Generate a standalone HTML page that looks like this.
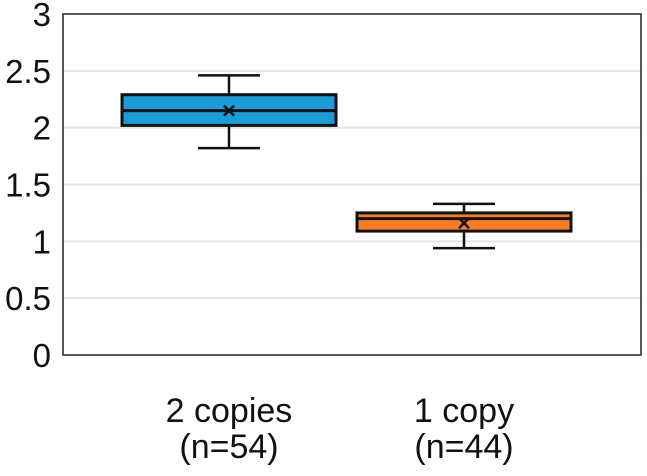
<!DOCTYPE html>
<html><head><meta charset="utf-8"><style>
body{margin:0;background:#fff;}
svg{display:block;font-family:"Liberation Sans",Arial,sans-serif;}
</style></head><body>
<svg id="c" width="647" height="476"></svg>
<script>
const categories=["2 copies","1 copy"];
const sampleSizes=["(n=54)","(n=44)"];
const whiskerLow=[1.82,0.94];
const q1Values=[2.02,1.09];
const medians=[2.15,1.20];
const q3Values=[2.29,1.25];
const whiskerHigh=[2.46,1.33];
const means=[2.15,1.16];
const yTicks=[0,0.5,1,1.5,2,2.5,3];
const yTickLabels=["0","0.5","1","1.5","2","2.5","3"];
const colors=["#1a9cd8","#fb7d21"];

const NS="http://www.w3.org/2000/svg";
const svg=document.getElementById('c');
const L=63,R=641,T=14,B=355;
const y=v=>B-(v/3)*(B-T);
const xc=i=>[229,464][i];
function mk(tag,attrs,parent){const e=document.createElementNS(NS,tag);for(const k in attrs)e.setAttribute(k,attrs[k]);(parent||svg).appendChild(e);return e;}

yTicks.forEach((v,i)=>{
  if(v>0&&v<3){const g=mk('line',{x1:L,x2:R,y1:y(v),y2:y(v),stroke:'#e3e3e3','stroke-width':2});
  
  }
  const t=mk('text',{x:51,y:y(v)+12,'text-anchor':'end','font-size':33,fill:'#111'});
  t.textContent=yTickLabels[i];
  
  
});
const frame=mk('rect',{x:L,y:T,width:R-L,height:B-T,fill:'none',stroke:'#222','stroke-width':1.5});



categories.forEach((c,i)=>{
  const cx=xc(i),bw=214,ww=62;
  const g=mk('g',{});
  
  
  mk('line',{x1:cx,x2:cx,y1:y(whiskerHigh[i]),y2:y(q3Values[i]),stroke:'#111','stroke-width':2.5},g);
  mk('line',{x1:cx,x2:cx,y1:y(q1Values[i]),y2:y(whiskerLow[i]),stroke:'#111','stroke-width':2.5},g);
  mk('line',{x1:cx-ww/2,x2:cx+ww/2,y1:y(whiskerHigh[i]),y2:y(whiskerHigh[i]),stroke:'#111','stroke-width':2.5},g);
  mk('line',{x1:cx-ww/2,x2:cx+ww/2,y1:y(whiskerLow[i]),y2:y(whiskerLow[i]),stroke:'#111','stroke-width':2.5},g);
  mk('rect',{x:cx-bw/2,y:y(q3Values[i]),width:bw,height:y(q1Values[i])-y(q3Values[i]),fill:colors[i],stroke:'#111','stroke-width':3},g);
  mk('line',{x1:cx-bw/2,x2:cx+bw/2,y1:y(medians[i]),y2:y(medians[i]),stroke:'#111','stroke-width':3},g);
  const my=y(means[i]);
  mk('path',{d:`M${cx-5} ${my-5}L${cx+5} ${my+5}M${cx+5} ${my-5}L${cx-5} ${my+5}`,stroke:'#111','stroke-width':2.5},g);
  const t1=mk('text',{x:cx,y:422,'text-anchor':'middle','font-size':34,fill:'#111'});
  t1.textContent=c;
  
  
  const t2=mk('text',{x:cx,y:458,'text-anchor':'middle','font-size':34,fill:'#111'});
  t2.textContent=sampleSizes[i];
  
  
});
</script>
</body></html>
